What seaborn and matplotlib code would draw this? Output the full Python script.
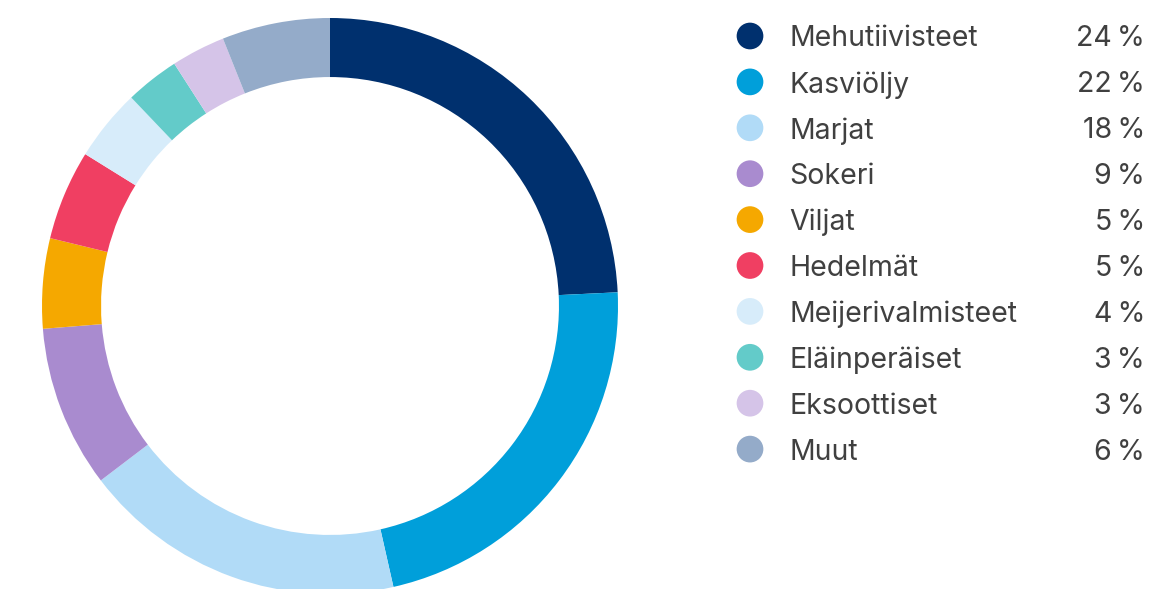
import matplotlib
matplotlib.use("Agg")
import matplotlib.pyplot as plt
import seaborn as sns
import pandas as pd

# Data
categories = ["Mehutiivisteet", "Kasviöljy", "Marjat", "Sokeri", "Viljat",
              "Hedelmät", "Meijerivalmisteet", "Eläinperäiset", "Eksoottiset", "Muut"]
shares = [24, 22, 18, 9, 5, 5, 4, 3, 3, 6]
colors = ["#00306e", "#009fda", "#b1dbf7", "#a98bcf", "#f5a800",
          "#f03f62", "#d7ecfa", "#63cbc9", "#d5c4e8", "#94abc9"]

sns.set_theme(style="white")
plt.rcParams["font.family"] = ["Inter", "DejaVu Sans"]

W, H = 1154, 589
fig = plt.figure(figsize=(W / 100, H / 100), dpi=100)

# ===== Donut =====
cx, cy, r = 330, 306, 288
ax = fig.add_axes([(cx - r) / W, (H - cy - r) / H, 2 * r / W, 2 * r / H])
ax.pie(shares, colors=colors, startangle=90, counterclock=False, radius=1,
       wedgeprops=dict(width=0.205, linewidth=0))
ax.set_xlim(-1, 1)
ax.set_ylim(-1, 1)
ax.set_aspect("equal")
ax.axis("off")

# ===== Legend =====
df = pd.DataFrame({"category": categories, "share": shares})
df["row"] = range(len(df))
lax = fig.add_axes([0, 0, 1, 1])
lax.set_xlim(0, W)
lax.set_ylim(H, 0)
lax.axis("off")

row_y = lambda i: 36 + 45.9 * i
sns.scatterplot(x=[750] * len(df), y=[row_y(i) for i in df["row"]],
                hue=df["category"], palette=colors, s=370, linewidth=0,
                legend=False, ax=lax)
for i, (cat, val) in enumerate(zip(categories, shares)):
    lax.text(789, row_y(i), cat, fontsize=20.5, color="#404040",
             va="center_baseline", ha="left")
    lax.text(1145, row_y(i), f"{val}\u2009%", fontsize=20.5, color="#404040",
             va="center_baseline", ha="right")

fig.savefig("out.png", dpi=100)
